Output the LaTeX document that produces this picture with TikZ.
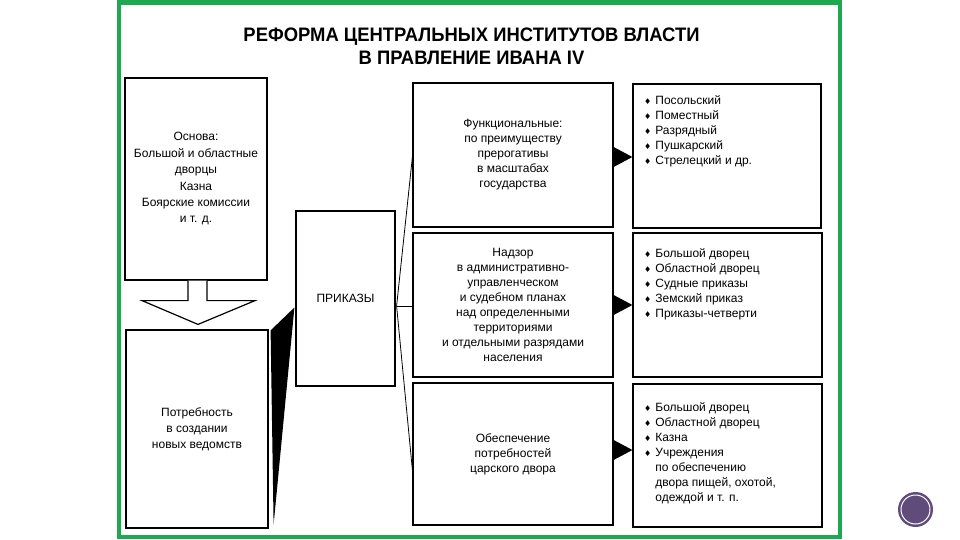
\documentclass[tikz,border=0pt]{standalone}
\usepackage{graphicx}
\usepackage{fontspec}
\setmainfont{Liberation Sans}
\newfontfamily\dejavu{DejaVu Sans}
\usetikzlibrary{calc,arrows.meta}
\definecolor{frameg}{RGB}{30,168,80}
\definecolor{dotp}{RGB}{96,76,122}
\newcommand{\bul}{{\dejavu\fontsize{8}{8}\selectfont ♦}}
\begin{document}
\begin{tikzpicture}[x=1pt,y=-1pt,
  box/.style={draw=black,line width=1.2pt,inner sep=0pt,align=center,
    font=\fontsize{12}{15}\selectfont},
  titletxt/.style={font=\bfseries\fontsize{19.5}{24}\selectfont,inner sep=0pt,
    text height=14pt,text depth=0pt},
  listtxt/.style={anchor=north west,inner sep=0pt,font=\fontsize{12}{15}\selectfont},
  link/.style={draw=black,line width=0.8pt},
  tiparrow/.style={line width=1pt,-{Triangle[length=19pt,width=20pt]}}]
\useasboundingbox (0,0) rectangle (960,540);
\fill[white] (0,0) rectangle (960,540);
\draw[frameg,line width=4.5pt] (119,2.5) rectangle (840,537);

% title
\node[titletxt] (t1) at (471.5,35) {\scalebox{0.945}[1]{РЕФОРМА ЦЕНТРАЛЬНЫХ ИНСТИТУТОВ ВЛАСТИ}};
\node[titletxt] (t2) at (471.5,58) {\scalebox{0.945}[1]{В ПРАВЛЕНИЕ ИВАНА IV}};

% left column
\node[box,minimum width=142pt,minimum height=202pt,font=\fontsize{12}{16.4}\selectfont] (osn) at (196,179)
  {Основа:\\Большой и областные\\дворцы\\Казна\\Боярские комиссии\\и т. д.};
\node[box,minimum width=142pt,minimum height=198pt,font=\fontsize{12}{16}\selectfont] (potr) at (197,429)
  {Потребность\\в создании\\новых ведомств};

% block arrow
\draw[line width=1.2pt,fill=white]
  ($(osn.south)+(-8,0)$) -- ($(osn.south)+(-8,20)$) -- ($(osn.south)+(-54,20)$)
  -- ($(potr.north)+(1,-5)$)
  -- ($(osn.south)+(59,20)$) -- ($(osn.south)+(11,20)$) -- ($(osn.south)+(11,0)$);

% prikazy
\node[box,minimum width=99pt,minimum height=175pt] (prik) at (345.5,298.5) {ПРИКАЗЫ};

% wedge
\fill[black] ($(potr.north east)+(2,1)$) -- ($(prik.west)+(-1,9)$) -- ($(potr.south east)+(5,-4)$) -- cycle;

% middle column
\node[box,minimum width=200pt,minimum height=144pt] (func) at (513,155)
  {Функциональные:\\по преимуществу\\прерогативы\\в масштабах\\государства};
\node[box,minimum width=200pt,minimum height=144pt] (nadz) at (513,305)
  {Надзор\\в административно-\\управленческом\\и судебном планах\\над определенными\\территориями\\и отдельными разрядами\\населения};
\node[box,minimum width=200pt,minimum height=142pt] (obes) at (513,454)
  {Обеспечение\\потребностей\\царского двора};

% right column
\node[box,minimum width=188pt,minimum height=144pt] (r1) at (727,156) {};
\node[box,minimum width=189pt,minimum height=144pt] (r2) at (727.5,305) {};
\node[box,minimum width=189pt,minimum height=143pt] (r3) at (727.5,455.5) {};

\node[listtxt] (l1) at (644,94) {\begin{tabular}{@{}l@{\hspace{4pt}}l@{}}
\bul&Посольский\\ \bul&Поместный\\ \bul&Разрядный\\ \bul&Пушкарский\\ \bul&Стрелецкий и др.\end{tabular}};
\node[listtxt] (l2) at (644,246.5) {\begin{tabular}{@{}l@{\hspace{4pt}}l@{}}
\bul&Большой дворец\\ \bul&Областной дворец\\ \bul&Судные приказы\\ \bul&Земский приказ\\ \bul&Приказы-четверти\end{tabular}};
\node[listtxt] (l3) at (644,400.5) {\begin{tabular}{@{}l@{\hspace{4pt}}l@{}}
\bul&Большой дворец\\ \bul&Областной дворец\\ \bul&Казна\\ \bul&Учреждения\\ &по обеспечению\\ &двора пищей, охотой,\\ &одеждой и т. п.\end{tabular}};

% connectors
\coordinate (j) at ($(prik.east)+(1,7.5)$);
\draw[link] (j) -- ($(func.west)+(0,2)$);
\draw[link] (j) -- (nadz.west |- j);
\draw[link] (j) -- ($(obes.west)+(0,16)$);

\draw[tiparrow] ($(func.east)+(0,2)$) -- ($(r1.west)+(0,1)$);
\draw[tiparrow] (nadz.east) -- (r2.west);
\draw[tiparrow] ($(obes.east)+(0,-4)$) -- ($(r3.west)+(0,-5.5)$);

% page marker
\fill[dotp] (915.5,509.5) circle (17.5);
\draw[white,line width=1pt] (915.5,509.5) circle (14.5);
\end{tikzpicture}
\end{document}
